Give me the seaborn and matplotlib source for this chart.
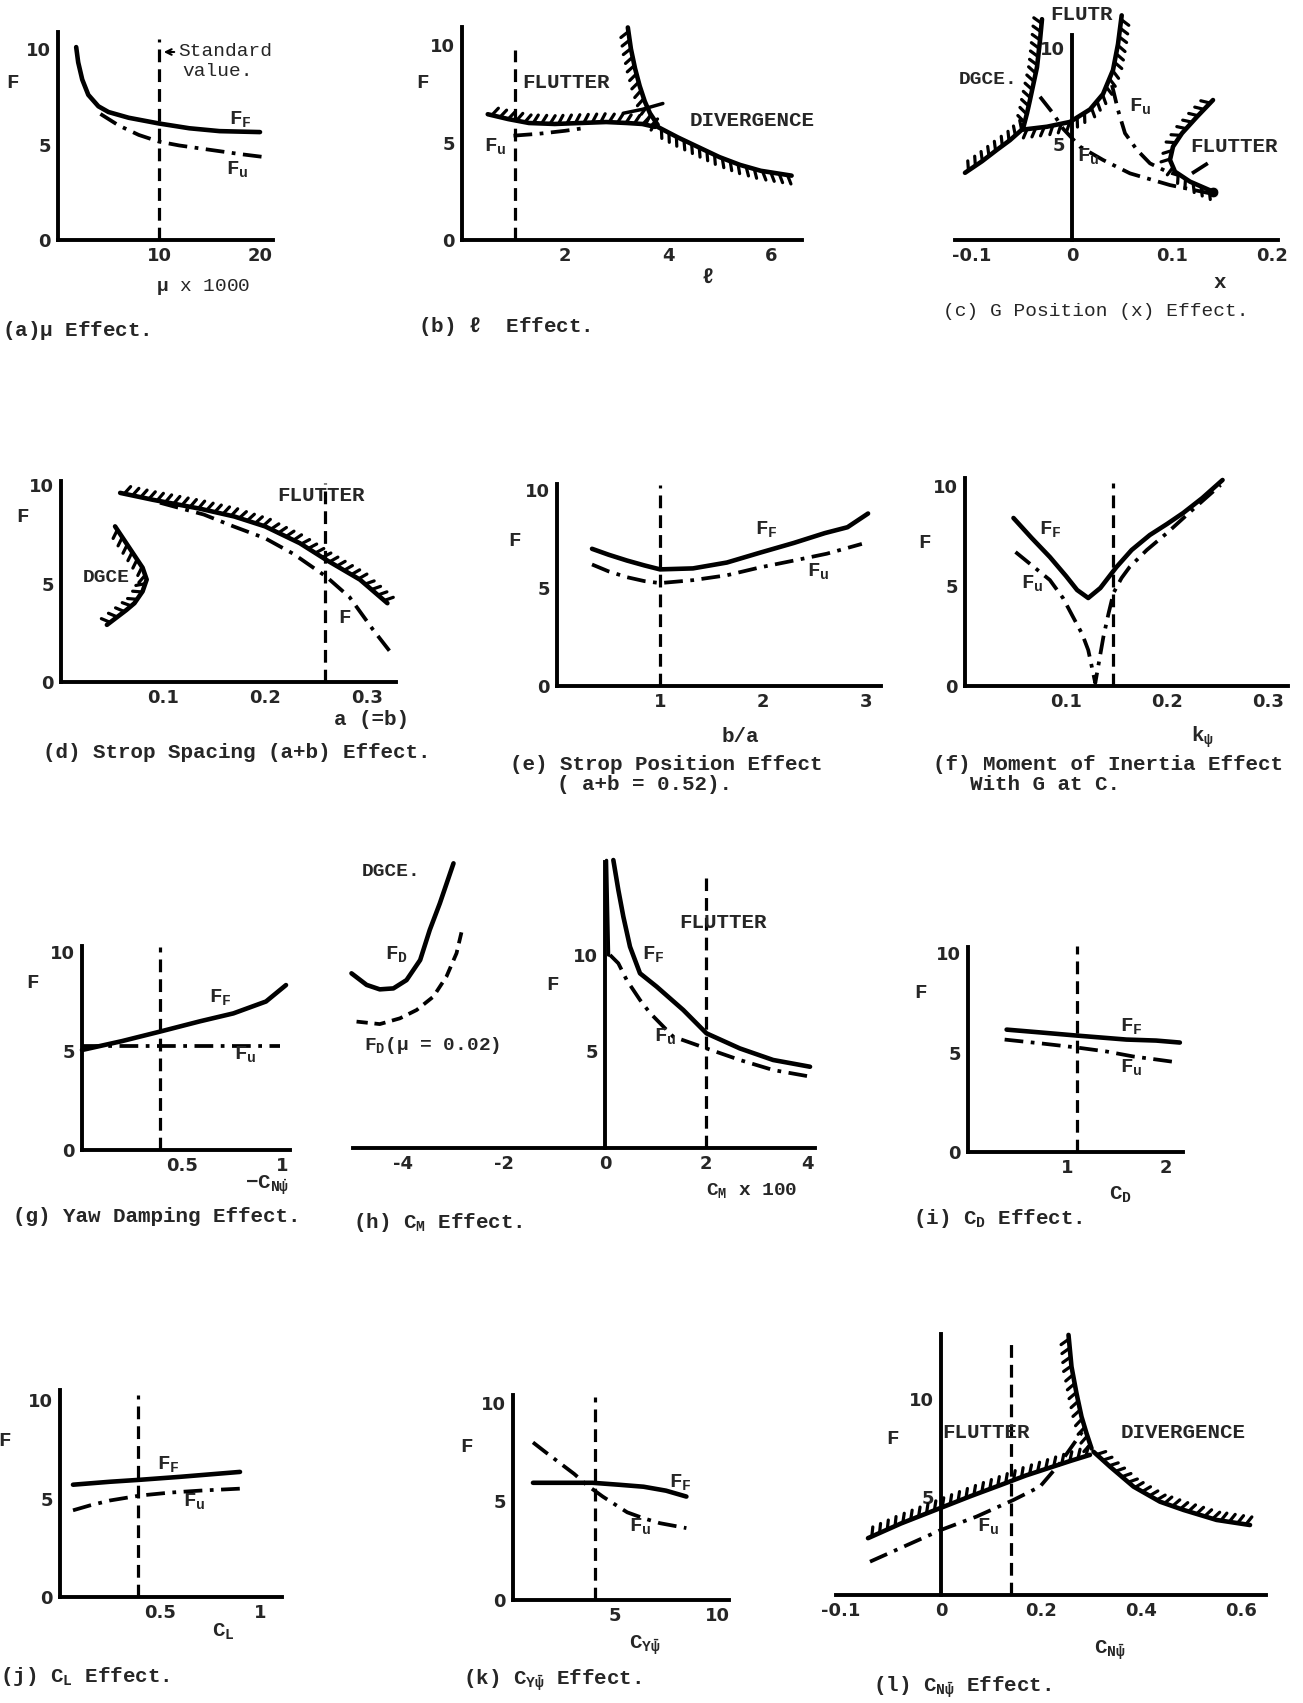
import numpy as np
import pandas as pd
import matplotlib
matplotlib.use("Agg")
import matplotlib.pyplot as plt
from matplotlib import patheffects as pe
import seaborn as sns

# ---------------- data ----------------
# (a) mu effect
a_ff_x = [1.8, 2.0, 2.4, 3.0, 4.0, 5.0, 7.0, 10.0, 13.0, 16.0, 20.0]
a_ff_y = [10.1, 9.3, 8.4, 7.6, 7.0, 6.7, 6.4, 6.1, 5.85, 5.7, 5.65]
a_fu_x = [4.2, 6.0, 8.0, 10.0, 12.0, 14.0, 16.0, 18.0, 20.3]
a_fu_y = [6.6, 6.0, 5.5, 5.15, 4.95, 4.8, 4.65, 4.5, 4.35]
a_std = 10.0

# (b) l effect
b_flut_x = [0.5, 0.9, 1.3, 1.8, 2.3, 2.8, 3.2, 3.5, 3.75]
b_flut_y = [6.45, 6.2, 6.0, 5.95, 6.0, 6.05, 6.0, 5.95, 5.8]
b_divv_x = [3.22, 3.28, 3.36, 3.45, 3.55, 3.65, 3.8]
b_divv_y = [10.9, 9.8, 8.8, 7.9, 7.1, 6.5, 5.9]
b_divr_x = [3.8, 4.2, 4.6, 5.0, 5.4, 5.8, 6.4]
b_divr_y = [5.8, 5.25, 4.75, 4.25, 3.85, 3.55, 3.3]
b_ff_x = [3.13, 3.5, 3.9]
b_ff_y = [6.5, 6.7, 7.0]
b_fu_x = [1.0, 1.5, 2.0, 2.4]
b_fu_y = [5.35, 5.45, 5.6, 5.75]
b_std = 1.03

# (c) G position (x) effect
c_dgce_x = [-0.107, -0.09, -0.075, -0.062, -0.049, -0.045, -0.042, -0.035, -0.032, -0.030]
c_dgce_y = [3.5, 4.1, 4.7, 5.2, 5.8, 6.6, 7.3, 9.0, 10.4, 11.5]
c_flutr_x = [0.0497, 0.046, 0.041, 0.031, 0.018, -0.002, -0.025, -0.049]
c_flutr_y = [11.7, 10.2, 8.85, 7.6, 6.8, 6.15, 5.9, 5.75]
c_ful_x = [-0.032, -0.019, -0.009, 0.008, 0.031, 0.058, 0.098, 0.138]
c_ful_y = [7.46, 6.6, 5.8, 4.86, 4.17, 3.47, 2.86, 2.43]
c_fur_x = [0.040, 0.046, 0.053, 0.065, 0.078, 0.095, 0.106]
c_fur_y = [8.07, 6.77, 5.56, 4.69, 3.99, 3.56, 3.39]
c_flut_x = [0.141, 0.125, 0.110, 0.101, 0.098, 0.103, 0.118, 0.141]
c_flut_y = [7.29, 6.42, 5.56, 4.86, 4.17, 3.56, 3.04, 2.52]
c_ff_x = [0.12, 0.141]
c_ff_y = [3.47, 4.17]

# (d) strop spacing
d_flut_x = [0.058, 0.09, 0.136, 0.17, 0.2, 0.234, 0.26, 0.293, 0.32]
d_flut_y = [9.6, 9.25, 8.8, 8.4, 7.9, 7.05, 6.2, 5.2, 4.0]
d_f_x = [0.097, 0.14, 0.169, 0.2, 0.228, 0.26, 0.283, 0.306, 0.324]
d_f_y = [9.1, 8.5, 7.9, 7.3, 6.5, 5.35, 4.3, 2.65, 1.45]
d_dgce_x = [0.053, 0.062, 0.071, 0.08, 0.084, 0.08, 0.072, 0.064, 0.045]
d_dgce_y = [7.9, 7.2, 6.5, 5.8, 5.2, 4.6, 4.0, 3.65, 2.9]
d_std = 0.259

# (e) strop position
e_ff_x = [0.34, 0.5, 0.68, 0.85, 1.0, 1.32, 1.65, 1.97, 2.3, 2.6, 2.82, 3.02]
e_ff_y = [7.0, 6.7, 6.4, 6.15, 5.95, 6.0, 6.3, 6.8, 7.3, 7.8, 8.1, 8.8]
e_fu_x = [0.34, 0.5, 0.68, 0.85, 1.0, 1.32, 1.65, 1.97, 2.3, 2.62, 2.96]
e_fu_y = [6.2, 5.85, 5.55, 5.35, 5.25, 5.4, 5.65, 6.05, 6.4, 6.75, 7.25]
e_std = 1.0

# (f) moment of inertia
f_ff_x = [0.048, 0.066, 0.084, 0.1, 0.111, 0.122, 0.134, 0.15, 0.165, 0.183, 0.2, 0.216, 0.235, 0.255]
f_ff_y = [8.4, 7.4, 6.45, 5.5, 4.8, 4.4, 4.9, 5.95, 6.8, 7.55, 8.1, 8.65, 9.4, 10.3]
f_fu_x = [0.05, 0.067, 0.084, 0.097, 0.107, 0.116, 0.122, 0.129, 0.133, 0.137, 0.142, 0.147,
          0.155, 0.163, 0.18, 0.2, 0.225, 0.253]
f_fu_y = [6.7, 6.0, 5.3, 4.4, 3.45, 2.6, 1.8, 0.15, 1.3, 2.45, 3.6, 4.65,
          5.4, 5.95, 6.8, 7.65, 8.8, 10.05]
f_std = 0.147

# (g) yaw damping
g_ff_x = [0.0, 0.2, 0.39, 0.59, 0.757, 0.92, 1.02]
g_ff_y = [5.05, 5.5, 5.98, 6.5, 6.9, 7.5, 8.33]
g_fu_x = [0.0, 0.25, 0.5, 0.75, 0.99]
g_fu_y = [5.25, 5.25, 5.25, 5.25, 5.25]
g_std = 0.39

# (h) C_M effect
h_fd_x = [-5.02, -4.72, -4.46, -4.19, -3.93, -3.66, -3.47, -3.27, -3.0]
h_fd_y = [9.05, 8.45, 8.22, 8.27, 8.7, 9.74, 11.3, 12.68, 14.75]
h_fd2_x = [-4.92, -4.46, -4.06, -3.73, -3.4, -3.14, -2.94, -2.84]
h_fd2_y = [6.55, 6.42, 6.72, 7.15, 7.84, 8.88, 10.09, 11.2]
h_ff_x = [0.165, 0.264, 0.363, 0.495, 0.693, 1.023, 1.55, 2.01, 2.67, 3.33, 4.06]
h_ff_y = [14.92, 13.37, 11.99, 10.43, 9.05, 8.36, 7.15, 5.94, 5.16, 4.56, 4.21]
h_spike_x = [0.03, 0.05, 0.07]
h_spike_y = [14.9, 12.4, 10.0]
h_fu_x = [0.10, 0.264, 0.43, 0.693, 0.89, 1.35, 2.01, 2.67, 3.33, 4.06]
h_fu_y = [10.0, 9.57, 8.7, 7.67, 7.0, 5.77, 5.16, 4.56, 4.04, 3.7]
h_std = 2.0

# (i) C_D effect
i_ff_x = [0.39, 0.75, 1.1, 1.35, 1.6, 1.9, 2.14]
i_ff_y = [6.15, 6.0, 5.85, 5.75, 5.65, 5.6, 5.5]
i_fu_x = [0.37, 0.75, 1.1, 1.4, 1.67, 1.9, 2.12]
i_fu_y = [5.65, 5.45, 5.25, 5.05, 4.8, 4.65, 4.5]
i_std = 1.1

# (j) C_L effect
j_ff_x = [0.065, 0.25, 0.4, 0.6, 0.9]
j_ff_y = [5.7, 5.85, 5.95, 6.1, 6.35]
j_fu_x = [0.065, 0.15, 0.25, 0.4, 0.55, 0.7, 0.9]
j_fu_y = [4.4, 4.65, 4.9, 5.15, 5.3, 5.4, 5.5]
j_std = 0.39

# (k) C_Y effect
k_ff_x = [0.98, 2.5, 3.9, 5.2, 6.4, 7.5, 8.5]
k_ff_y = [5.95, 5.95, 5.95, 5.85, 5.75, 5.55, 5.25]
k_fu_x = [0.98, 1.6, 2.3, 3.0, 3.6, 4.4, 5.0, 5.6, 6.4, 7.2, 8.5]
k_fu_y = [8.0, 7.5, 6.95, 6.4, 5.85, 5.25, 4.85, 4.45, 4.15, 3.9, 3.65]
k_std = 4.0

# (l) C_N effect
l_flut_x = [-0.146, -0.08, 0.0, 0.06, 0.118, 0.17, 0.224, 0.26, 0.298]
l_flut_y = [2.9, 3.65, 4.45, 5.05, 5.6, 6.1, 6.55, 6.85, 7.15]
l_divv_x = [0.255, 0.261, 0.271, 0.281, 0.291, 0.301]
l_divv_y = [13.27, 11.65, 10.29, 9.1, 8.25, 7.48]
l_divr_x = [0.305, 0.338, 0.385, 0.438, 0.485, 0.551, 0.618]
l_divr_y = [7.31, 6.55, 5.53, 4.76, 4.34, 3.83, 3.57]
l_fu_x = [-0.142, 0.0, 0.071, 0.145, 0.198, 0.238, 0.285]
l_fu_y = [1.7, 3.32, 4.0, 4.85, 5.53, 6.72, 8.42]
l_std = 0.14

# ---------------- style ----------------
sns.set_style("white")
MONO = ["Liberation Mono", "DejaVu Sans Mono"]
TICKF = ["DejaVu Sans"]
plt.rcParams["font.family"] = MONO
plt.rcParams["font.weight"] = "bold"
plt.rcParams["mathtext.fontset"] = "custom"
plt.rcParams["mathtext.rm"] = "Liberation Mono:bold"
plt.rcParams["mathtext.it"] = "Liberation Mono:bold"
plt.rcParams["mathtext.bf"] = "Liberation Mono:bold"
plt.rcParams["mathtext.sf"] = "Liberation Mono:bold"

W, H = 1303, 1703
fig = plt.figure(figsize=(W / 100, H / 100), dpi=100)
fig.patch.set_facecolor("white")

DASHDOT = (0, (5, 2, 1, 2))
DASHED = (0, (4, 2.2))
FDDASH = (0, (3, 1.8))


def make_ax(x0, sx, xlim, y0, sy, ylim, xticks, xlabels, yticks, ylabels,
            spine_zero=False, ybound=None):
    left = x0 + sx * xlim[0]
    right = x0 + sx * xlim[1]
    bot = y0 - sy * ylim[0]
    top = y0 - sy * ylim[1]
    ax = fig.add_axes([left / W, 1 - bot / H, (right - left) / W, (bot - top) / H])
    ax.set_xlim(xlim)
    ax.set_ylim(ylim)
    ax.patch.set_alpha(0)
    for s in ["top", "right"]:
        ax.spines[s].set_visible(False)
    for s in ["left", "bottom"]:
        ax.spines[s].set_linewidth(2.8)
        ax.spines[s].set_color("black")
    if spine_zero:
        ax.spines["left"].set_position(("data", 0))
    if ybound is not None:
        ax.spines["left"].set_bounds(0, ybound)
    ax.set_xticks(xticks, labels=xlabels, fontfamily=TICKF, fontweight="bold", fontsize=13)
    ax.set_yticks(yticks, labels=ylabels, fontfamily=TICKF, fontweight="bold", fontsize=13)
    ax.tick_params(direction="in", length=5, width=2.2, color="black", pad=5)
    ax.set_xlabel("")
    ax.set_ylabel("")
    return ax


def curve(ax, x, y, style="solid", hatch=None, lw=3.3):
    df = pd.DataFrame({"x": x, "y": y})
    kw = dict(color="black", linewidth=lw, sort=False, estimator=None, ax=ax,
              legend=False, clip_on=False, solid_capstyle="round")
    if style == "dashdot":
        kw["linestyle"] = DASHDOT
        kw["linewidth"] = 2.7
    elif style == "fddash":
        kw["linestyle"] = FDDASH
        kw["linewidth"] = 2.7
    if hatch is not None:
        kw["path_effects"] = [pe.withTickedStroke(angle=hatch, spacing=6, length=1.15, linewidth=2.3)]
    sns.lineplot(data=df, x="x", y="y", **kw)
    ax.set_xlabel("")
    ax.set_ylabel("")


def std_line(ax, x, top):
    ax.vlines(x, 0, top, colors="black", linestyles=[DASHED], linewidth=2.3, clip_on=False)


def T(x, y, s, size=15, ha="center", va="center", weight="bold"):
    fig.text(x / W, 1 - y / H, s, fontsize=size, ha=ha, va=va, fontweight=weight)


# ---------------- panels ----------------
# (a)
ax = make_ax(58, 10.1, (0, 21.3), 240, 19.1, (0, 10.9), [10, 20], ["10", "20"],
             [0, 5, 10], ["0", "5", "10"])
curve(ax, a_ff_x, a_ff_y)
curve(ax, a_fu_x, a_fu_y, "dashdot")
std_line(ax, a_std, 10.5)
T(178, 52, "Standard", 14, ha="left", weight="normal")
T(182, 72, "value.", 14, ha="left", weight="normal")
ax.annotate("", xy=(161 / W, 1 - 52 / H), xytext=(177 / W, 1 - 52 / H),
            xycoords="figure fraction", arrowprops=dict(arrowstyle="->", lw=1.5, color="black"))
T(13, 83, "F")
T(240, 120, "$F_F$")
T(237, 170, "$F_u$")
T(203, 287, r"$\mu$ x 1000", 14, weight="normal")
T(2, 331, r"(a)$\mu$ Effect.", ha="left")

# (b)
ax = make_ax(462, 51.5, (0, 6.6), 240, 19.5, (0, 11.0), [2, 4, 6], ["2", "4", "6"],
             [0, 5, 10], ["0", "5", "10"], ybound=10.9)
curve(ax, b_flut_x, b_flut_y, hatch=60)
curve(ax, b_divv_x, b_divv_y, hatch=-60)
curve(ax, b_divr_x, b_divr_y, hatch=-60)
curve(ax, b_ff_x, b_ff_y, lw=2.5)
curve(ax, b_fu_x, b_fu_y, "dashdot")
std_line(ax, b_std, 9.75)
T(423, 83, "F")
T(566, 83, "FLUTTER")
T(752, 120, "DIVERGENCE")
T(495, 147, "$F_u$")
T(707, 277, r"$\ell$")
T(418, 327, r"(b) $\ell$  Effect.", ha="left")

# (c)
ax = make_ax(1072, 1000, (-0.117, 0.206), 240, 19.2, (0, 12), [-0.1, 0, 0.1, 0.2],
             ["-0.1", "0", "0.1", "0.2"], [5, 10], ["5", "10"], spine_zero=True, ybound=10.7)
curve(ax, c_dgce_x, c_dgce_y, hatch=60)
curve(ax, c_flutr_x, c_flutr_y, hatch=60)
curve(ax, c_ful_x, c_ful_y, "dashdot")
curve(ax, c_fur_x, c_fur_y, "dashdot")
curve(ax, c_flut_x, c_flut_y, hatch=-60)
curve(ax, c_ff_x, c_ff_y, "dashdot")
sns.scatterplot(x=c_flut_x[-1:], y=c_flut_y[-1:], ax=ax, color="black", s=60, legend=False, clip_on=False)
ax.set_xlabel("")
ax.set_ylabel("")
T(1082, 15, "FLUTR")
T(988, 80, "DGCE.", 14)
T(1140, 107, "$F_u$")
T(1088, 157, "$F_u$")
T(1234, 147, "FLUTTER")
T(1220, 282, "x")
T(943, 312, "(c) G Position (x) Effect.", 14, ha="left", weight="normal")

# (d)
ax = make_ax(61, 1020, (0, 0.328), 682, 19.7, (0, 10.2), [0.1, 0.2, 0.3],
             ["0.1", "0.2", "0.3"], [0, 5, 10], ["0", "5", "10"])
curve(ax, d_flut_x, d_flut_y, hatch=60)
curve(ax, d_f_x, d_f_y, "dashdot")
curve(ax, d_dgce_x, d_dgce_y, hatch=-60)
std_line(ax, d_std, 10.1)
T(22, 517, "F")
T(321, 495, "FLUTTER")
T(106, 578, "DGCE", 14)
T(345, 617, "F")
T(372, 720, "a (=b)")
T(43, 753, "(d) Strop Spacing (a+b) Effect.", ha="left")

# (e)
ax = make_ax(557, 103, (0, 3.15), 686, 19.6, (0, 10.3), [1, 2, 3], ["1", "2", "3"],
             [0, 5, 10], ["0", "5", "10"])
curve(ax, e_ff_x, e_ff_y)
curve(ax, e_fu_x, e_fu_y, "dashdot")
std_line(ax, e_std, 10.25)
T(515, 540, "F")
T(766, 530, "$F_F$")
T(818, 572, "$F_u$")
T(740, 737, "b/a")
T(510, 765, "(e) Strop Position Effect", ha="left")
T(557, 784, "( a+b = 0.52).", ha="left")

# (f)
ax = make_ax(965, 1010, (0, 0.32), 686, 20.0, (0, 10.4), [0.1, 0.2, 0.3],
             ["0.1", "0.2", "0.3"], [0, 5, 10], ["0", "5", "10"])
curve(ax, f_ff_x, f_ff_y)
curve(ax, f_fu_x, f_fu_y, "dashdot")
std_line(ax, f_std, 10.15)
T(925, 542, "F")
T(1050, 530, "$F_F$")
T(1032, 584, "$F_u$")
T(1202, 737, r"$k_\psi$")
T(933, 765, "(f) Moment of Inertia Effect", ha="left")
T(970, 784, "With G at C.", ha="left")

# (g)
ax = make_ax(82, 200, (0, 1.04), 1150, 19.8, (0, 10.3), [0.5, 1], ["0.5", "1"],
             [0, 5, 10], ["0", "5", "10"])
curve(ax, g_ff_x, g_ff_y)
curve(ax, g_fu_x, g_fu_y, "dashdot")
std_line(ax, g_std, 10.25)
T(32, 983, "F")
T(220, 998, "$F_F$")
T(245, 1055, "$F_u$")
T(267, 1185, r"$-C_{N\dot{\psi}}$")
T(13, 1217, "(g) Yaw Damping Effect.", ha="left")

# (h)
ax = make_ax(605, 50.5, (-5, 4.15), 1148, 19.3, (0, 15), [-4, -2, 0, 2, 4],
             ["-4", "-2", "0", "2", "4"], [5, 10], ["5", "10"], spine_zero=True, ybound=14.8)
curve(ax, h_fd_x, h_fd_y)
curve(ax, h_fd2_x, h_fd2_y, "fddash")
curve(ax, h_ff_x, h_ff_y)
curve(ax, h_spike_x, h_spike_y, lw=2.5)
curve(ax, h_fu_x, h_fu_y, "dashdot")
std_line(ax, h_std, 14.0)
T(391, 872, "DGCE.", 14)
T(396, 955, "$F_D$")
T(432, 1045, r"$F_D$($\mu$ = 0.02)", 14)
T(723, 923, "FLUTTER")
T(653, 955, "$F_F$")
T(665, 1037, "$F_u$")
T(552, 985, "F")
T(752, 1190, "$C_M$ x 100", 14)
T(353, 1223, "(h) $C_M$ Effect.", ha="left")

# (i)
ax = make_ax(968, 99, (0, 2.17), 1152, 19.9, (0, 10.3), [1, 2], ["1", "2"],
             [0, 5, 10], ["0", "5", "10"])
curve(ax, i_ff_x, i_ff_y)
curve(ax, i_fu_x, i_fu_y, "dashdot")
std_line(ax, i_std, 10.35)
T(920, 992, "F")
T(1131, 1027, "$F_F$")
T(1131, 1068, "$F_u$")
T(1120, 1195, "$C_D$")
T(913, 1218, "(i) $C_D$ Effect.", ha="left")

# (j)
ax = make_ax(60, 200, (0, 1.11), 1597, 19.7, (0, 10.5), [0.5, 1], ["0.5", "1"],
             [0, 5, 10], ["0", "5", "10"])
curve(ax, j_ff_x, j_ff_y)
curve(ax, j_fu_x, j_fu_y, "dashdot")
std_line(ax, j_std, 10.25)
T(5, 1440, "F")
T(168, 1465, "$F_F$")
T(194, 1502, "$F_u$")
T(223, 1632, "$C_L$")
T(0, 1677, "(j) $C_L$ Effect.", ha="left")

# (k)
ax = make_ax(513, 20.4, (0, 10.6), 1600, 19.7, (0, 10.4), [5, 10], ["5", "10"],
             [0, 5, 10], ["0", "5", "10"])
curve(ax, k_ff_x, k_ff_y)
curve(ax, k_fu_x, k_fu_y, "dashdot")
std_line(ax, k_std, 10.3)
T(467, 1447, "F")
T(680, 1483, "$F_F$")
T(640, 1527, "$F_u$")
T(645, 1645, r"$C_{Y\bar{\psi}}$")
T(463, 1680, r"(k) $C_{Y\bar{\psi}}$ Effect.", ha="left")

# (l)
ax = make_ax(941, 500, (-0.21, 0.65), 1595, 19.6, (0, 13.5), [-0.2, 0, 0.2, 0.4, 0.6],
             ["-0.1", "0", "0.2", "0.4", "0.6"], [5, 10], ["5", "10"], spine_zero=True, ybound=13.3)
curve(ax, l_flut_x, l_flut_y, hatch=60)
curve(ax, l_divv_x, l_divv_y, hatch=-60)
curve(ax, l_divr_x, l_divr_y, hatch=60)
curve(ax, l_fu_x, l_fu_y, "dashdot")
std_line(ax, l_std, 13.0)
T(893, 1438, "F")
T(986, 1433, "FLUTTER")
T(1183, 1433, "DIVERGENCE")
T(988, 1527, "$F_u$")
T(1110, 1650, r"$C_{N\bar{\psi}}$")
T(873, 1687, r"(l) $C_{N\bar{\psi}}$ Effect.", ha="left")

fig.savefig("out.png", dpi=100, facecolor="white")
